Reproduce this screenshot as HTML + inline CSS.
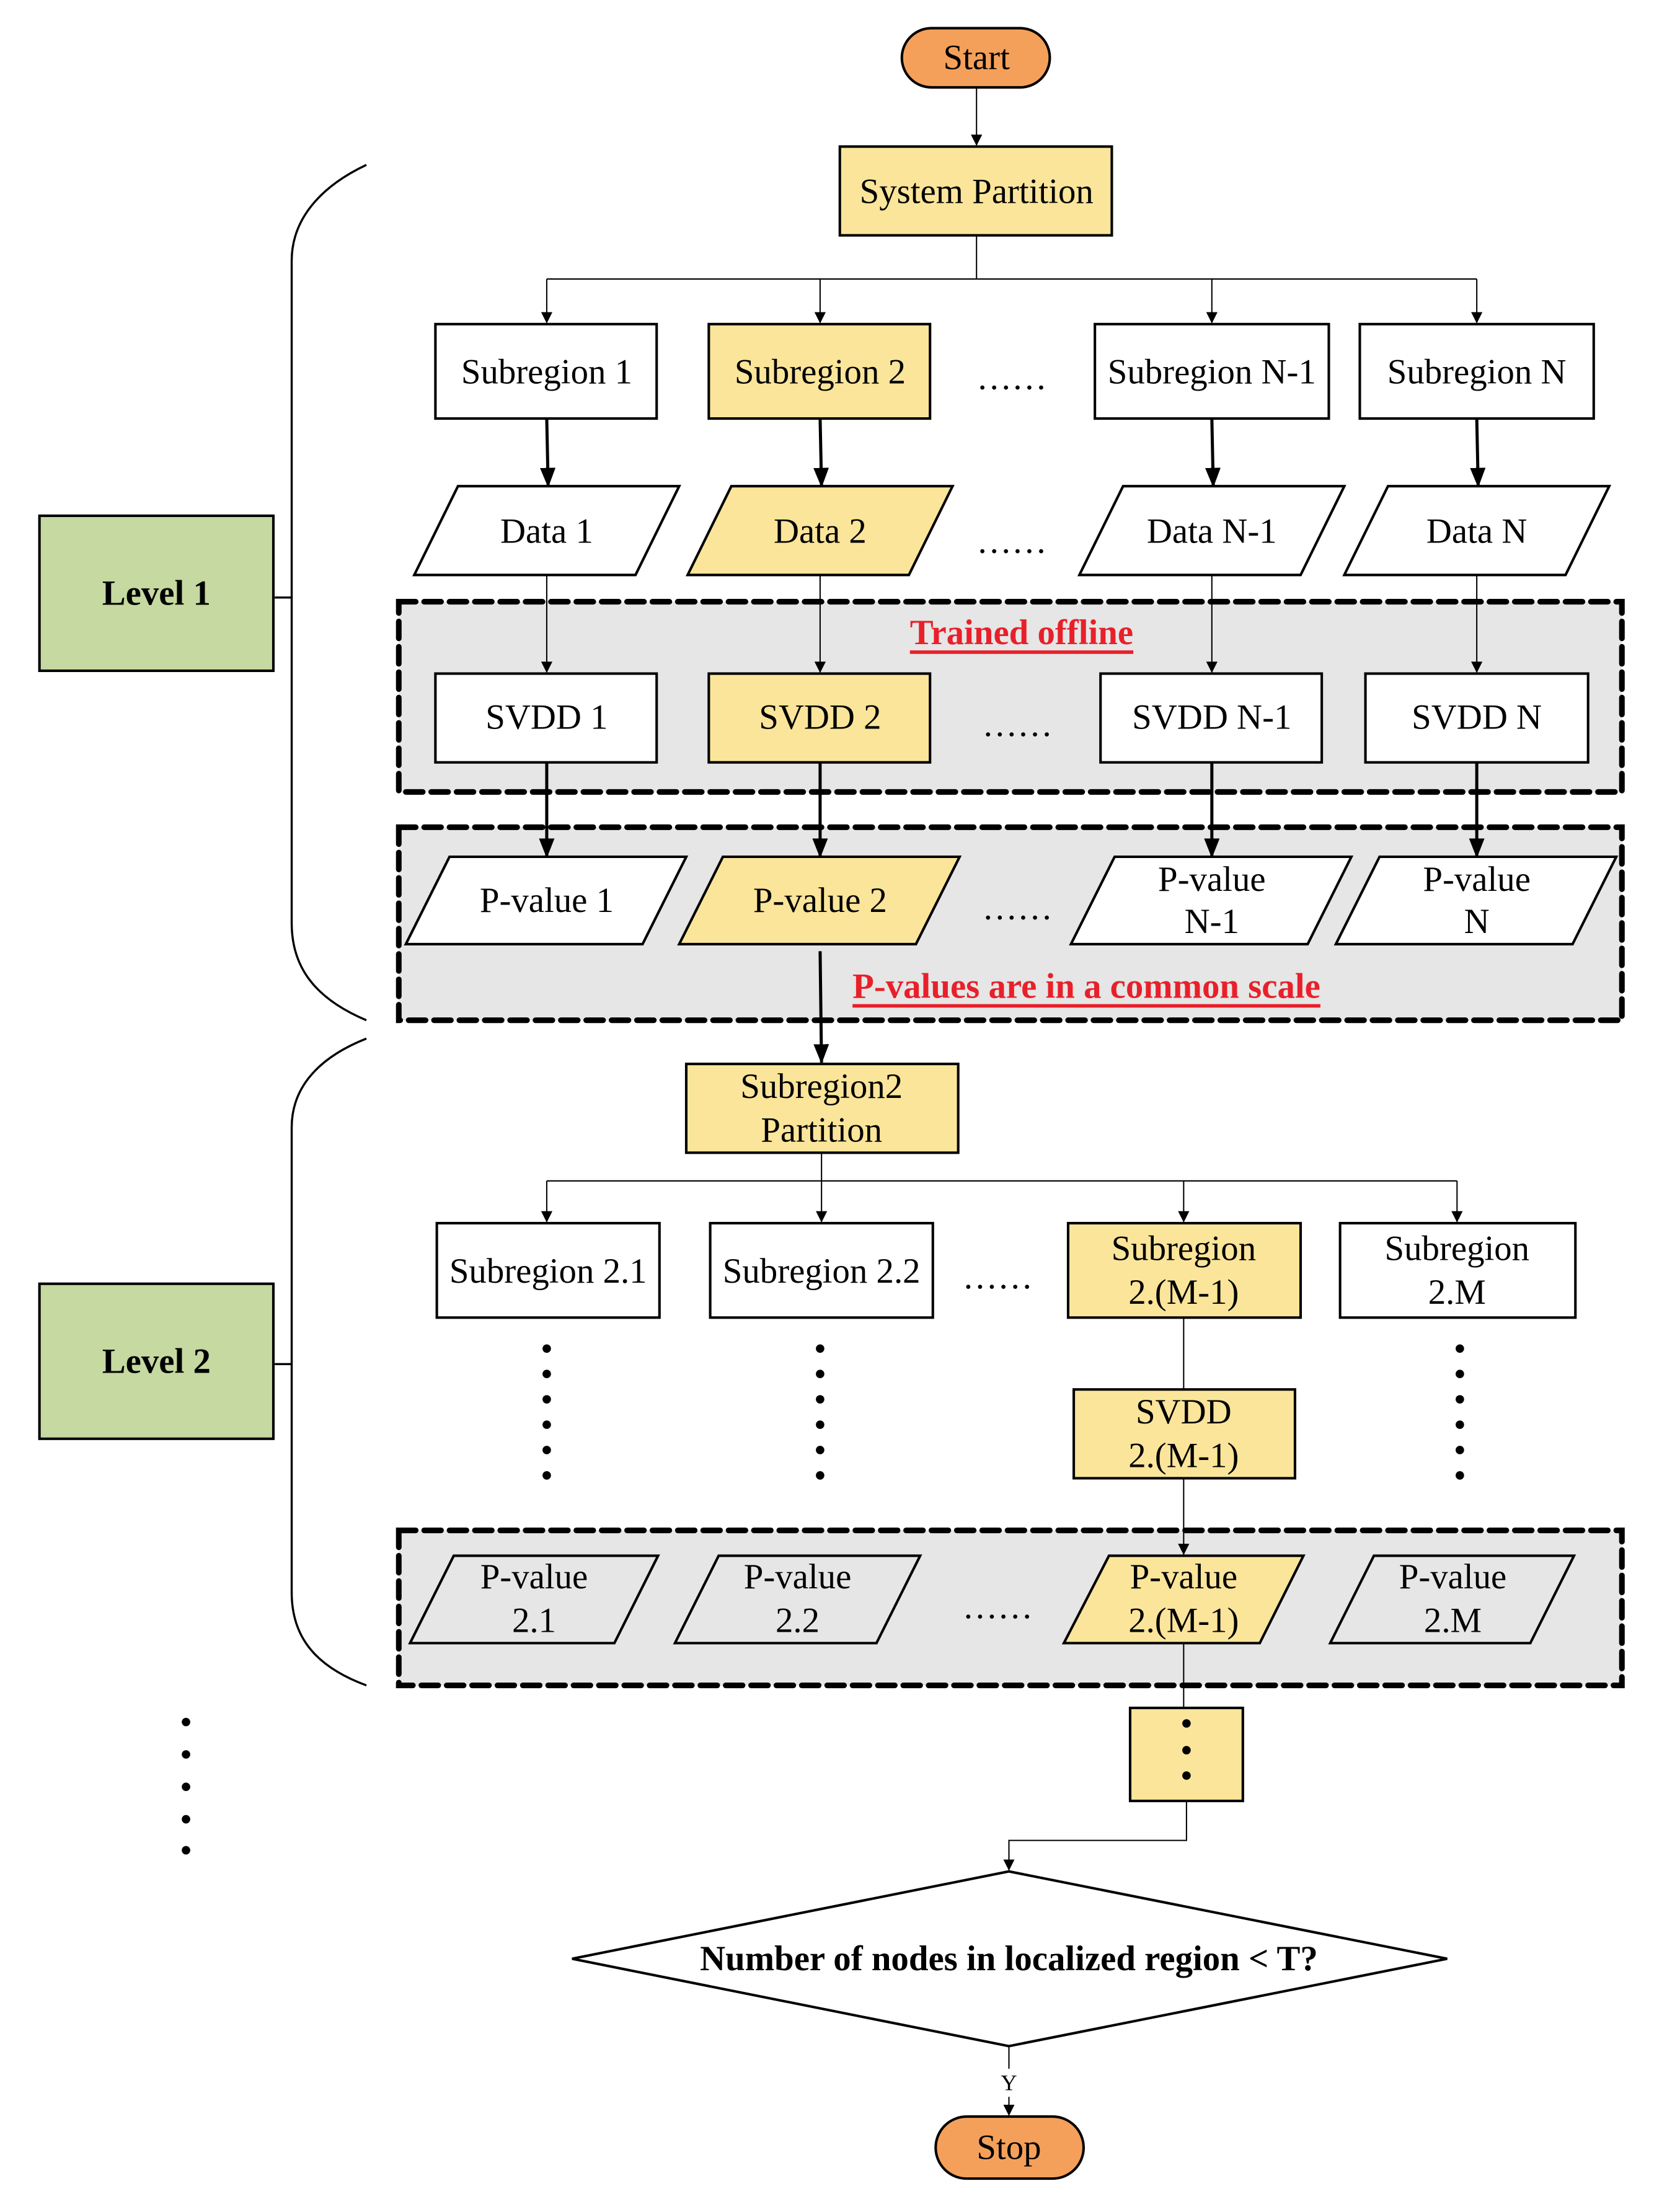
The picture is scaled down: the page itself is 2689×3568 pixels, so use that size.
<!DOCTYPE html>
<html><head><meta charset="utf-8"><style>
html,body{margin:0;padding:0;background:#fff}
svg{display:block}
text{font-family:"Liberation Serif",serif;font-size:25px;fill:#000;text-anchor:middle;dominant-baseline:central}
.b{font-weight:bold}
.r{fill:#e8202a;font-weight:bold;text-decoration:underline}
</style></head><body>
<svg width="2689" height="3568" viewBox="0 0 1183 1569.7" xmlns="http://www.w3.org/2000/svg">
<defs>
<marker id="a" markerWidth="8" markerHeight="10" refX="7.5" refY="5" orient="auto" markerUnits="userSpaceOnUse"><path d="M0,1 L8,5 L0,9z" fill="#000"/></marker>
<marker id="A" markerWidth="14" markerHeight="12" refX="13" refY="6" orient="auto" markerUnits="userSpaceOnUse"><path d="M0,0.5 L14,6 L0,11.5z" fill="#000"/></marker>
</defs>
<g stroke="#000" stroke-width="4" stroke-dasharray="12,6" stroke-linecap="round" fill="#e5e6e5">
<rect x="283" y="427" width="868" height="135"/>
<rect x="283" y="587" width="868" height="137"/>
<rect x="283" y="1086" width="868" height="110"/>
</g>
<!-- braces -->
<g fill="none" stroke="#000" stroke-width="1.5">
<path d="M260,117 C222,135 207,160 207,185 L207,655 C207,685 222,708 260,724 M207,424 L195,424"/>
<path d="M260,737 C222,752 207,775 207,800 L207,1130 C207,1160 222,1182 260,1196 M207,968 L195,968"/>
</g>
<!-- thin connectors -->
<g fill="none" stroke="#000" stroke-width="0.9">
<path d="M693,62 L693,103" marker-end="url(#a)"/>
<path d="M693,167 L693,198 M388,198 L1048,198"/>
<path d="M388,198 L388,229" marker-end="url(#a)"/>
<path d="M582,198 L582,229" marker-end="url(#a)"/>
<path d="M860,198 L860,229" marker-end="url(#a)"/>
<path d="M1048,198 L1048,229" marker-end="url(#a)"/>
<path d="M388,408 L388,477" marker-end="url(#a)"/>
<path d="M582,408 L582,477" marker-end="url(#a)"/>
<path d="M860,408 L860,477" marker-end="url(#a)"/>
<path d="M1048,408 L1048,477" marker-end="url(#a)"/>
<path d="M583,818 L583,838 M388,838 L1034,838"/>
<path d="M388,838 L388,867" marker-end="url(#a)"/>
<path d="M583,838 L583,867" marker-end="url(#a)"/>
<path d="M840,838 L840,867" marker-end="url(#a)"/>
<path d="M1034,838 L1034,867" marker-end="url(#a)"/>
<path d="M840,935 L840,986"/>
<path d="M840,1049 L840,1103" marker-end="url(#a)"/>
<path d="M840,1166 L840,1212"/>
<path d="M842,1278 L842,1306 L716,1306 L716,1327" marker-end="url(#a)"/>
<path d="M716,1452 L716,1468 M716,1488 L716,1501" marker-end="url(#a)"/>
</g>
<!-- thick connectors -->
<g fill="none" stroke="#000" stroke-width="2.2">
<path d="M388,297 L389,345" marker-end="url(#A)"/>
<path d="M582,297 L583,345" marker-end="url(#A)"/>
<path d="M860,297 L861,345" marker-end="url(#A)"/>
<path d="M1048,297 L1049,345" marker-end="url(#A)"/>
<path d="M388,541 L388,608" marker-end="url(#A)"/>
<path d="M582,541 L582,608" marker-end="url(#A)"/>
<path d="M860,541 L860,608" marker-end="url(#A)"/>
<path d="M1048,541 L1048,608" marker-end="url(#A)"/>
<path d="M582,675 L583,754" marker-end="url(#A)"/>
</g>
<g stroke="#000" stroke-width="1.8">
<rect x="640" y="20" width="105" height="42" rx="21" fill="#f4a05a"/>
<rect x="664" y="1502" width="105" height="44" rx="22" fill="#f4a05a"/>
<rect x="596" y="104" width="193" height="63" fill="#fae59a"/>
<rect x="309" y="230" width="157" height="67" fill="#fff"/>
<rect x="503" y="230" width="157" height="67" fill="#fae59a"/>
<rect x="777" y="230" width="166" height="67" fill="#fff"/>
<rect x="965" y="230" width="166" height="67" fill="#fff"/>
<polygon points="325,345 482,345 451,408 294,408" fill="#fff"/>
<polygon points="519,345 676,345 645,408 488,408" fill="#fae59a"/>
<polygon points="797,345 954,345 923,408 766,408" fill="#fff"/>
<polygon points="985,345 1142,345 1111,408 954,408" fill="#fff"/>
<rect x="309" y="478" width="157" height="63" fill="#fff"/>
<rect x="503" y="478" width="157" height="63" fill="#fae59a"/>
<rect x="781" y="478" width="157" height="63" fill="#fff"/>
<rect x="969" y="478" width="158" height="63" fill="#fff"/>
<polygon points="319,608 487,608 456,670 288,670" fill="#fff"/>
<polygon points="513,608 681,608 650,670 482,670" fill="#fae59a"/>
<polygon points="791,608 959,608 928,670 760,670" fill="#fff"/>
<polygon points="979,608 1147,608 1116,670 948,670" fill="#fff"/>
<rect x="487" y="755" width="193" height="63" fill="#fae59a"/>
<rect x="310" y="868" width="158" height="67" fill="#fff"/>
<rect x="504" y="868" width="158" height="67" fill="#fff"/>
<rect x="758" y="868" width="165" height="67" fill="#fae59a"/>
<rect x="951" y="868" width="167" height="67" fill="#fff"/>
<rect x="762" y="986" width="157" height="63" fill="#fae59a"/>
<polygon points="322,1104 467,1104 436,1166 291,1166" fill="#e5e6e5"/>
<polygon points="510,1104 653,1104 622,1166 479,1166" fill="#e5e6e5"/>
<polygon points="787,1104 925,1104 894,1166 755,1166" fill="#fae59a"/>
<polygon points="975,1104 1117,1104 1086,1166 944,1166" fill="#e5e6e5"/>
<rect x="802" y="1212" width="80" height="66" fill="#fae59a"/>
<polygon points="716,1328 1027,1390 716,1452 406,1390" fill="#fff"/>
<rect x="28" y="366" width="166" height="110" fill="#c5d9a0"/>
<rect x="28" y="911" width="166" height="110" fill="#c5d9a0"/>
</g>
<!-- dots -->
<g fill="#000">
<circle cx="388" cy="957" r="3"/><circle cx="388" cy="975" r="3"/><circle cx="388" cy="993" r="3"/><circle cx="388" cy="1011" r="3"/><circle cx="388" cy="1029" r="3"/><circle cx="388" cy="1047" r="3"/>
<circle cx="582" cy="957" r="3"/><circle cx="582" cy="975" r="3"/><circle cx="582" cy="993" r="3"/><circle cx="582" cy="1011" r="3"/><circle cx="582" cy="1029" r="3"/><circle cx="582" cy="1047" r="3"/>
<circle cx="1036" cy="957" r="3"/><circle cx="1036" cy="975" r="3"/><circle cx="1036" cy="993" r="3"/><circle cx="1036" cy="1011" r="3"/><circle cx="1036" cy="1029" r="3"/><circle cx="1036" cy="1047" r="3"/>
<circle cx="132" cy="1222" r="3"/><circle cx="132" cy="1245" r="3"/><circle cx="132" cy="1268" r="3"/><circle cx="132" cy="1291" r="3"/><circle cx="132" cy="1313" r="3"/>
<circle cx="842" cy="1223" r="3"/><circle cx="842" cy="1242" r="3"/><circle cx="842" cy="1260" r="3"/>
</g>
<text x="693" y="41">Start</text>
<text x="716" y="1524">Stop</text>
<text x="693" y="136">System Partition</text>
<text x="388" y="264">Subregion 1</text>
<text x="582" y="264">Subregion 2</text>
<text x="718" y="268">……</text>
<text x="860" y="264">Subregion N-1</text>
<text x="1048" y="264">Subregion N</text>
<text x="388" y="377">Data 1</text>
<text x="582" y="377">Data 2</text>
<text x="718" y="384">……</text>
<text x="860" y="377">Data N-1</text>
<text x="1048" y="377">Data N</text>
<text class="r" x="725" y="449">Trained offline</text>
<text x="388" y="509">SVDD 1</text>
<text x="582" y="509">SVDD 2</text>
<text x="722" y="514">……</text>
<text x="860" y="509">SVDD N-1</text>
<text x="1048" y="509">SVDD N</text>
<text x="388" y="639">P-value 1</text>
<text x="582" y="639">P-value 2</text>
<text x="722" y="644">……</text>
<text x="860" y="624">P-value</text><text x="860" y="654">N-1</text>
<text x="1048" y="624">P-value</text><text x="1048" y="654">N</text>
<text class="r" x="771" y="700">P-values are in a common scale</text>
<text x="583" y="771">Subregion2</text><text x="583" y="802">Partition</text>
<text x="389" y="902">Subregion 2.1</text>
<text x="583" y="902">Subregion 2.2</text>
<text x="708" y="906">……</text>
<text x="840" y="886">Subregion</text><text x="840" y="917">2.(M-1)</text>
<text x="1034" y="886">Subregion</text><text x="1034" y="917">2.M</text>
<text x="840" y="1002">SVDD</text><text x="840" y="1033">2.(M-1)</text>
<text x="379" y="1119">P-value</text><text x="379" y="1150">2.1</text>
<text x="566" y="1119">P-value</text><text x="566" y="1150">2.2</text>
<text x="708" y="1140">……</text>
<text x="840" y="1119">P-value</text><text x="840" y="1150">2.(M-1)</text>
<text x="1031" y="1119">P-value</text><text x="1031" y="1150">2.M</text>
<text class="b" x="716" y="1390">Number of nodes in localized region  &lt; T?</text>
<text x="716" y="1478" style="font-size:16px">Y</text>
<text class="b" x="111" y="421">Level 1</text>
<text class="b" x="111" y="966">Level 2</text>
</svg>
</body></html>
